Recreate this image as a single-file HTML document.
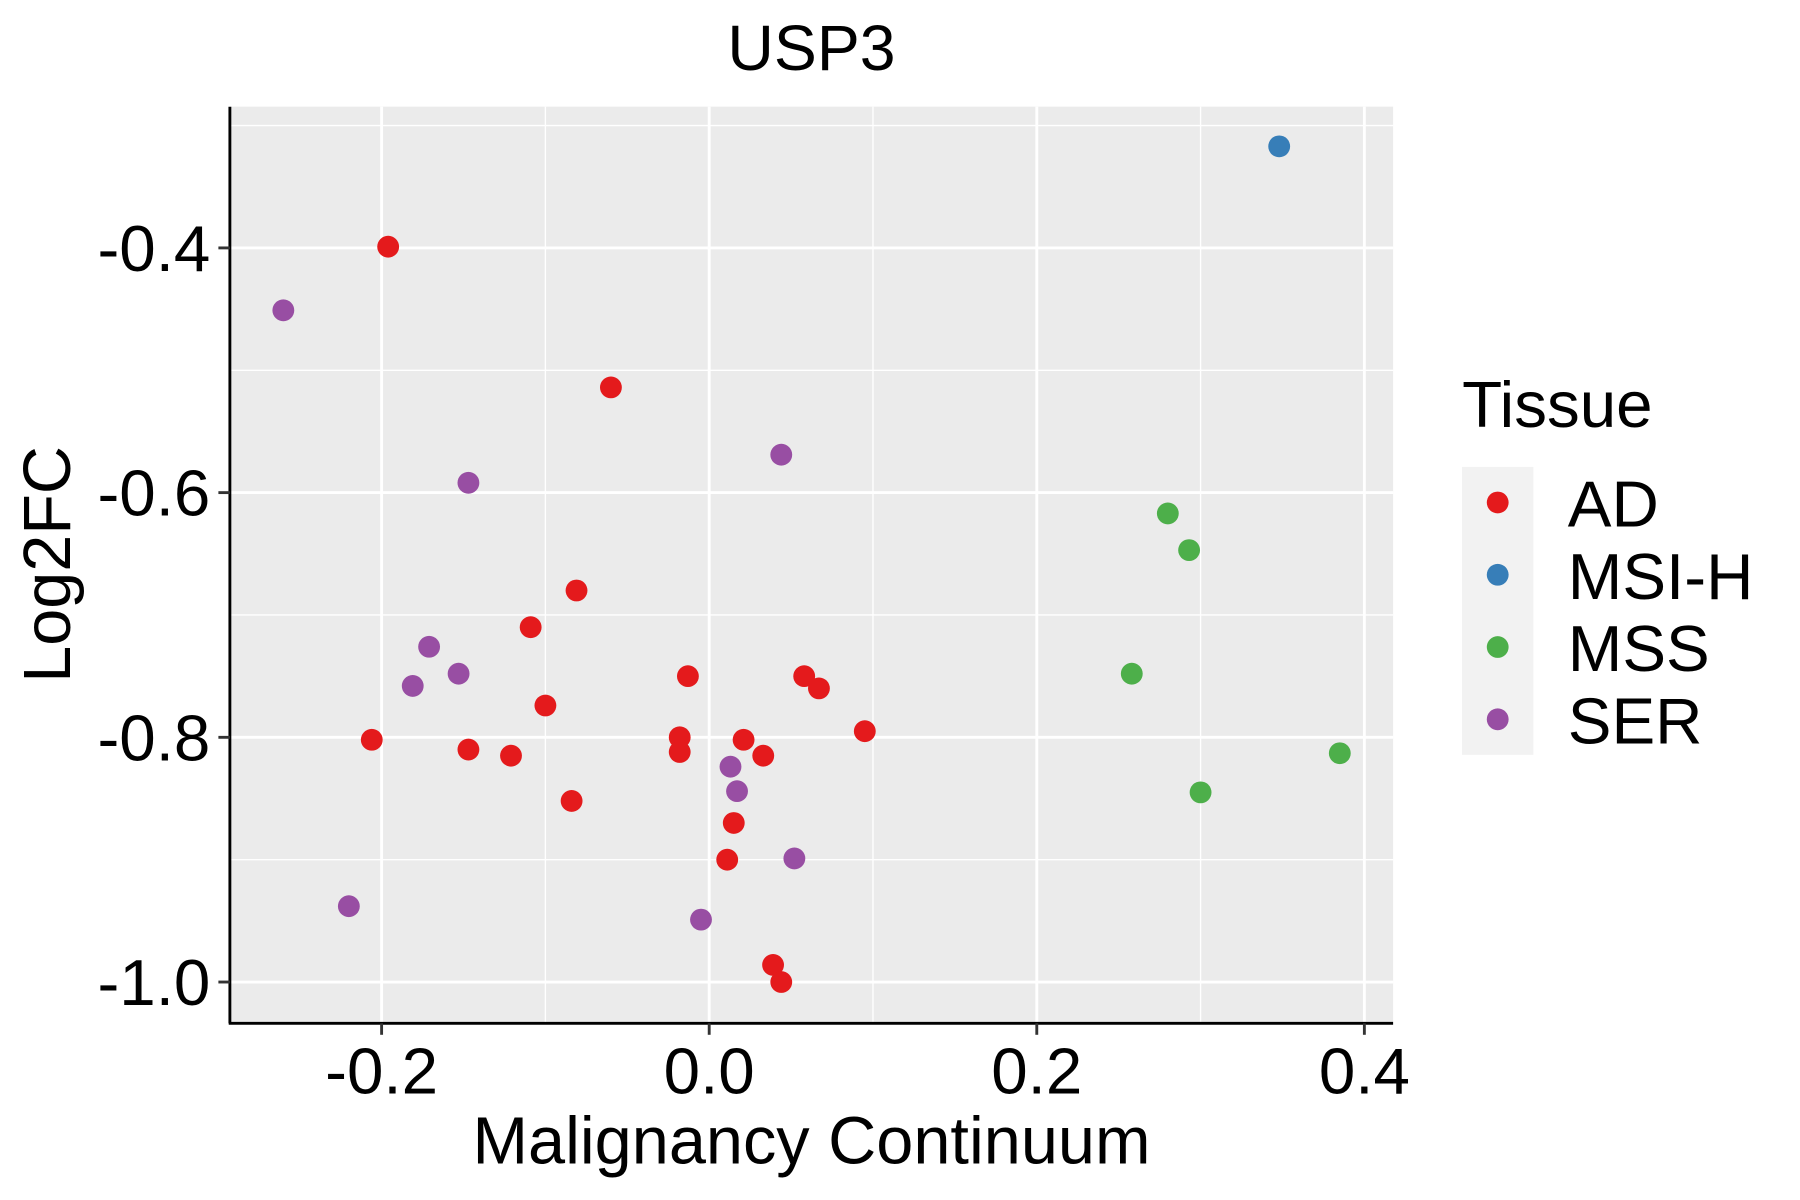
<!DOCTYPE html>
<html><head><meta charset="utf-8"><style>html,body{margin:0;padding:0;background:#fff}svg{display:block}</style></head>
<body>
<svg id="chart" width="1800" height="1200" viewBox="0 0 1566 1046" preserveAspectRatio="none" xmlns="http://www.w3.org/2000/svg" font-family="'Liberation Sans', sans-serif">
<text x="706" y="61" font-size="56" text-anchor="middle">USP3</text>
<rect x="200" y="93" width="1012" height="799" fill="#ebebeb"/>
<g id="grid"></g>
<g id="points"></g>
<line x1="200" y1="93" x2="200" y2="892" stroke="#000" stroke-width="2.5"/>
<line x1="199" y1="892" x2="1212" y2="892" stroke="#000" stroke-width="2.5"/>
<g id="ticks"></g>
<text x="706" y="1014" font-size="58" text-anchor="middle">Malignancy Continuum</text>
<text transform="translate(61,492) rotate(-90)" font-size="58" text-anchor="middle">Log2FC</text>
<text x="1272" y="372" font-size="57">Tissue</text>
<rect x="1272" y="407" width="62" height="251" fill="#f2f2f2"/>
<g id="legend"></g>
</svg>
<script>
const ns="http://www.w3.org/2000/svg";
const xTicks=[-0.2,0.0,0.2,0.4];
const xTickLabels=["-0.2","0.0","0.2","0.4"];
const yTicks=[-0.4,-0.6,-0.8,-1.0];
const yTickLabels=["-0.4","-0.6","-0.8","-1.0"];
const groups=["AD","MSI-H","MSS","SER"];
const colors=["#e41a1c","#377eb8","#4daf4a","#984ea3"];
const adX=[-0.196,-0.060,-0.081,-0.109,-0.100,-0.013,0.058,0.067,0.095,-0.206,-0.147,-0.121,-0.018,-0.018,0.021,0.033,-0.084,0.015,0.011,0.039,0.044];
const adY=[-0.399,-0.514,-0.680,-0.710,-0.774,-0.750,-0.750,-0.760,-0.795,-0.802,-0.810,-0.815,-0.800,-0.812,-0.802,-0.815,-0.852,-0.870,-0.900,-0.986,-1.000];
const msihX=[0.348];
const msihY=[-0.317];
const mssX=[0.280,0.293,0.258,0.385,0.300];
const mssY=[-0.617,-0.647,-0.748,-0.813,-0.845];
const serX=[-0.260,-0.147,0.044,-0.171,-0.153,-0.181,0.013,0.017,0.052,-0.220,-0.005];
const serY=[-0.451,-0.592,-0.569,-0.726,-0.748,-0.758,-0.824,-0.844,-0.899,-0.938,-0.949];
const seriesX=[adX,msihX,mssX,serX];
const seriesY=[adY,msihY,mssY,serY];
function xs(v){return 617+v*1425;}
function ys(v){return 856-(v+1)*1066.5;}
function mk(tag,attrs,parent){const e=document.createElementNS(ns,tag);for(const k in attrs)e.setAttribute(k,attrs[k]);parent.appendChild(e);return e;}
const grid=document.getElementById('grid');
const ticks=document.getElementById('ticks');
for(let i=0;i<xTicks.length+1;i++){
  const v=xTicks[0]-0.1+i*0.2;
  const l=mk('line',{x1:xs(v),x2:xs(v),y1:93,y2:892,stroke:'#fff','stroke-width':1.2},grid);
  
  
}
for(let i=0;i<yTicks.length+1;i++){
  const v=yTicks[0]+0.1-i*0.2;
  const l=mk('line',{x1:200,x2:1212,y1:ys(v),y2:ys(v),stroke:'#fff','stroke-width':1.2},grid);
  
  
}
xTicks.forEach((v,i)=>{
  const l=mk('line',{x1:xs(v),x2:xs(v),y1:93,y2:892,stroke:'#fff','stroke-width':2.5},grid);
  
  
  const t=mk('line',{x1:xs(v),x2:xs(v),y1:892,y2:902,stroke:'#333','stroke-width':2.5},ticks);
  
  
  const tx=mk('text',{x:xs(v),y:953,'font-size':57,'text-anchor':'middle'},ticks);
  tx.textContent=xTickLabels[i];
  
  
});
yTicks.forEach((v,i)=>{
  const l=mk('line',{x1:200,x2:1212,y1:ys(v),y2:ys(v),stroke:'#fff','stroke-width':2.5},grid);
  
  
  const t=mk('line',{x1:190,x2:200,y1:ys(v),y2:ys(v),stroke:'#333','stroke-width':2.5},ticks);
  
  
  const tx=mk('text',{x:183,y:ys(v)+20,'font-size':57,'text-anchor':'end'},ticks);
  tx.textContent=yTickLabels[i];
  
  
});
const pts=document.getElementById('points');
seriesX.forEach((arr,g)=>{
  arr.forEach((xv,i)=>{
    const c=mk('circle',{cx:xs(xv),cy:ys(seriesY[g][i]),r:9.5,fill:colors[g]},pts);
    
    
  });
});
const leg=document.getElementById('legend');
groups.forEach((g,i)=>{
  const y=438+i*63;
  const c=mk('circle',{cx:1303,cy:y,r:9.5,fill:colors[i]},leg);
  
  
  const t=mk('text',{x:1364,y:y+21,'font-size':57},leg);
  t.textContent=g;
  
  
});
</script>
</body></html>
